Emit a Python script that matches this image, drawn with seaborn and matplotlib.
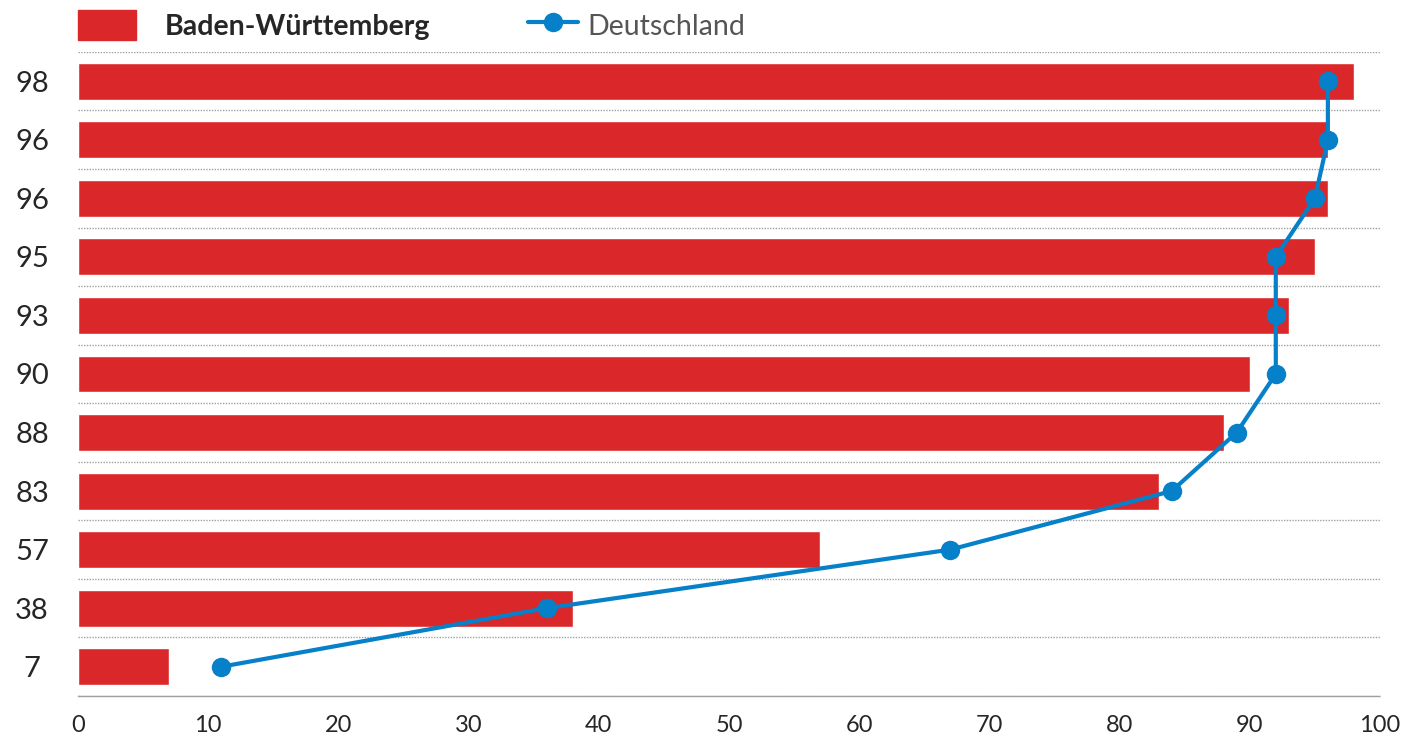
import numpy as np
import pandas as pd
import seaborn as sns
import matplotlib.pyplot as plt
from matplotlib.patches import Patch
from matplotlib.lines import Line2D

# values, top row first
bw_values = [98, 96, 96, 95, 93, 90, 88, 83, 57, 38, 7]
de_values = [96, 96, 95, 92, 92, 92, 89, 84, 67, 36, 11]
row_labels = [str(v) for v in bw_values]
x_ticks = [0, 10, 20, 30, 40, 50, 60, 70, 80, 90, 100]

red = '#DA282A'
blue = '#0580C9'
grey = '#A0A0A0'

sns.set_style('white')
plt.rcParams['font.family'] = ['Lato', 'DejaVu Sans']

df = pd.DataFrame({'row': [str(i) for i in range(len(bw_values))], 'bw': bw_values})
pos = np.arange(len(de_values))

fig = plt.figure(figsize=(14.2, 7.42), dpi=100)
ax = fig.add_axes([0.0549, 0.062, 0.9169, 0.868])

sns.barplot(data=df, x='bw', y='row', orient='h', color=red, saturation=1,
            width=0.63, ax=ax)
sns.lineplot(x=de_values, y=pos, sort=False, estimator=None, color=blue,
             lw=3, marker='o', markersize=14, markeredgewidth=0, ax=ax)

ax.set_xlim(0, 100)
ax.set_ylim(len(bw_values) - 0.5, -0.5)
ax.set_xticks(x_ticks)
ax.set_yticks(pos)
ax.set_yticklabels(row_labels)
ax.set_xlabel('')
ax.set_ylabel('')
ax.tick_params(axis='y', length=0, labelsize=21, pad=33)
ax.tick_params(axis='x', length=7, width=1, color=grey, labelsize=17, pad=7)
for lab in ax.get_yticklabels():
    lab.set_horizontalalignment('center')

ax.set_yticks(np.arange(-0.5, len(bw_values), 1), minor=True)
ax.tick_params(axis='y', which='minor', length=0)
ax.grid(which='minor', axis='y', color=grey, ls=(0, (1, 1)), lw=1)
ax.grid(which='major', axis='x', visible=False)
ax.set_axisbelow(True)
for s in ['top', 'right', 'left']:
    ax.spines[s].set_visible(False)
ax.spines['bottom'].set_color(grey)
ax.spines['bottom'].set_linestyle((0, (1, 1)))
ax.spines['bottom'].set_linewidth(1)

# two legend entries, placed separately like the original
leg1 = fig.legend([Patch(color=red)], ['Baden-Württemberg'],
                  loc='upper left', bbox_to_anchor=(78 / 1420, 1 - 10 / 742),
                  frameon=False, borderpad=0, borderaxespad=0,
                  fontsize=20.5, handlelength=2.03, handleheight=1.25,
                  handletextpad=1.0)
leg1.get_texts()[0].set_fontweight('bold')
leg2 = fig.legend([Line2D([], [], color=blue, lw=3, marker='o', markersize=14,
                          markeredgewidth=0)], ['Deutschland'],
                  loc='upper left', bbox_to_anchor=(528 / 1420, 1 - 10 / 742),
                  frameon=False, borderpad=0, borderaxespad=0,
                  fontsize=20.5, handlelength=1.75, handleheight=1.25,
                  handletextpad=0.32)
leg2.get_texts()[0].set_color('#555555')

fig.savefig('out.png', dpi=100)
